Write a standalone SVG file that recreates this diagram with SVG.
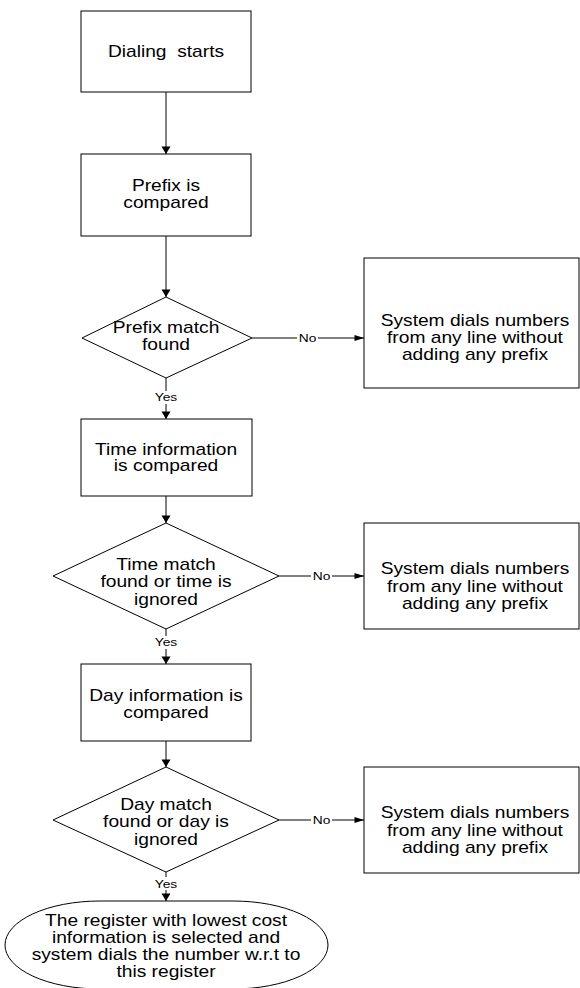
<svg xmlns="http://www.w3.org/2000/svg" width="580" height="988" viewBox="0 0 580 988">
<style>
.s{fill:#fff;stroke:#000;stroke-width:1}
.t{font-family:"Liberation Sans",Arial,sans-serif;font-size:16px;fill:#000;text-anchor:middle}
.l{font-family:"Liberation Sans",Arial,sans-serif;font-size:11.5px;fill:#000;text-anchor:middle}
.c{fill:none;stroke:#000;stroke-width:1}
.bg{fill:#fff;stroke:none}
</style>
<defs>
<marker id="ad" markerUnits="userSpaceOnUse" markerWidth="12" markerHeight="10" refX="5" refY="8" orient="0" overflow="visible"><path d="M0.5,0.5 L9.5,0.5 L5,8 Z" fill="#000"/></marker>
<marker id="ar" markerUnits="userSpaceOnUse" markerWidth="12" markerHeight="10" refX="10" refY="3.5" orient="0" overflow="visible"><path d="M0.5,0.5 L10,3.5 L0.5,6.5 Z" fill="#000"/></marker>
</defs>
<rect width="580" height="988" fill="#fff"/>
<g id="connectors">
<path class="c" d="M166,92 V154" marker-end="url(#ad)"/>
<path class="c" d="M166,236 V297" marker-end="url(#ad)"/>
<path class="c" d="M252,338 H364" marker-end="url(#ar)"/>
<path class="c" d="M166,378 V419" marker-end="url(#ad)"/>
<path class="c" d="M166,496 V523" marker-end="url(#ad)"/>
<path class="c" d="M279,576 H364" marker-end="url(#ar)"/>
<path class="c" d="M166,629 V664" marker-end="url(#ad)"/>
<path class="c" d="M166,741 V767" marker-end="url(#ad)"/>
<path class="c" d="M279,820 H364" marker-end="url(#ar)"/>
<path class="c" d="M166,872 V901" marker-end="url(#ad)"/>
<rect class="bg" x="297" y="332" width="21" height="12"/>
<rect class="bg" x="311" y="570" width="21" height="12"/>
<rect class="bg" x="311" y="814" width="21" height="12"/>
<rect class="bg" x="153" y="391" width="26" height="13"/>
<rect class="bg" x="153" y="636" width="26" height="13"/>
<rect class="bg" x="153" y="877" width="26" height="13"/>
<g transform="matrix(1.2,0,0,1,307.5,0)"><text class="l" x="0" y="342">No</text></g>
<g transform="matrix(1.2,0,0,1,321.5,0)"><text class="l" x="0" y="580">No</text></g>
<g transform="matrix(1.2,0,0,1,321.5,0)"><text class="l" x="0" y="824">No</text></g>
<g transform="matrix(1.2,0,0,1,166,0)"><text class="l" x="0" y="401.5">Yes</text><text class="l" x="0" y="646.5">Yes</text><text class="l" x="0" y="888">Yes</text></g>
</g>
<g id="n1">
<rect class="s" x="81" y="11" width="170" height="81"/>
<g transform="matrix(1.2,0,0,1,166,0)"><text class="t" x="0" y="57.5" xml:space="preserve">Dialing  starts</text></g>
</g>
<g id="n2">
<rect class="s" x="81" y="154" width="170" height="82"/>
<g transform="matrix(1.2,0,0,1,166,0)"><text class="t" x="0" y="191.5">Prefix is</text><text class="t" x="0" y="208">compared</text></g>
</g>
<g id="d1">
<polygon class="s" points="166,297 252,338 166,378 82,338"/>
<g transform="matrix(1.2,0,0,1,166,0)"><text class="t" x="0" y="333">Prefix match</text><text class="t" x="0" y="350">found</text></g>
</g>
<g id="r1">
<rect class="s" x="364" y="258" width="215" height="130"/>
<g transform="matrix(1.2,0,0,1,475,0)"><text class="t" x="0" y="326">System dials numbers</text><text class="t" x="0" y="343">from any line without</text><text class="t" x="0" y="360">adding any prefix</text></g>
</g>
<g id="n3">
<rect class="s" x="81" y="419" width="171" height="77"/>
<g transform="matrix(1.2,0,0,1,166,0)"><text class="t" x="0" y="455">Time information</text><text class="t" x="0" y="471.5">is compared</text></g>
</g>
<g id="d2">
<polygon class="s" points="166,523 279,576 166,629 53,576"/>
<g transform="matrix(1.2,0,0,1,166,0)"><text class="t" x="0" y="570">Time match</text><text class="t" x="0" y="587.5">found or time is</text><text class="t" x="0" y="605">ignored</text></g>
</g>
<g id="r2">
<rect class="s" x="364" y="523" width="215" height="106"/>
<g transform="matrix(1.2,0,0,1,475,0)"><text class="t" x="0" y="574.5">System dials numbers</text><text class="t" x="0" y="592">from any line without</text><text class="t" x="0" y="609.5">adding any prefix</text></g>
</g>
<g id="n4">
<rect class="s" x="81" y="664" width="170" height="77"/>
<g transform="matrix(1.2,0,0,1,166,0)"><text class="t" x="0" y="701">Day information is</text><text class="t" x="0" y="718">compared</text></g>
</g>
<g id="d3">
<polygon class="s" points="166,767 279,820 166,872 53,820"/>
<g transform="matrix(1.2,0,0,1,166,0)"><text class="t" x="0" y="810">Day match</text><text class="t" x="0" y="827.5">found or day is</text><text class="t" x="0" y="845">ignored</text></g>
</g>
<g id="r3">
<rect class="s" x="364" y="767" width="215" height="106"/>
<g transform="matrix(1.2,0,0,1,475,0)"><text class="t" x="0" y="818.5">System dials numbers</text><text class="t" x="0" y="836">from any line without</text><text class="t" x="0" y="853.5">adding any prefix</text></g>
</g>
<g id="t1">
<path class="s" d="M100,901 H233 A95,44 0 0 1 233,989 H100 A95,44 0 0 1 100,901 Z"/>
<g transform="matrix(1.2,0,0,1,166,0)"><text class="t" x="0" y="926.5">The register with lowest cost</text><text class="t" x="0" y="943.5">information is selected and</text><text class="t" x="0" y="960.5">system dials the number w.r.t to</text><text class="t" x="0" y="977.5">this register</text></g>
</g>
</svg>
